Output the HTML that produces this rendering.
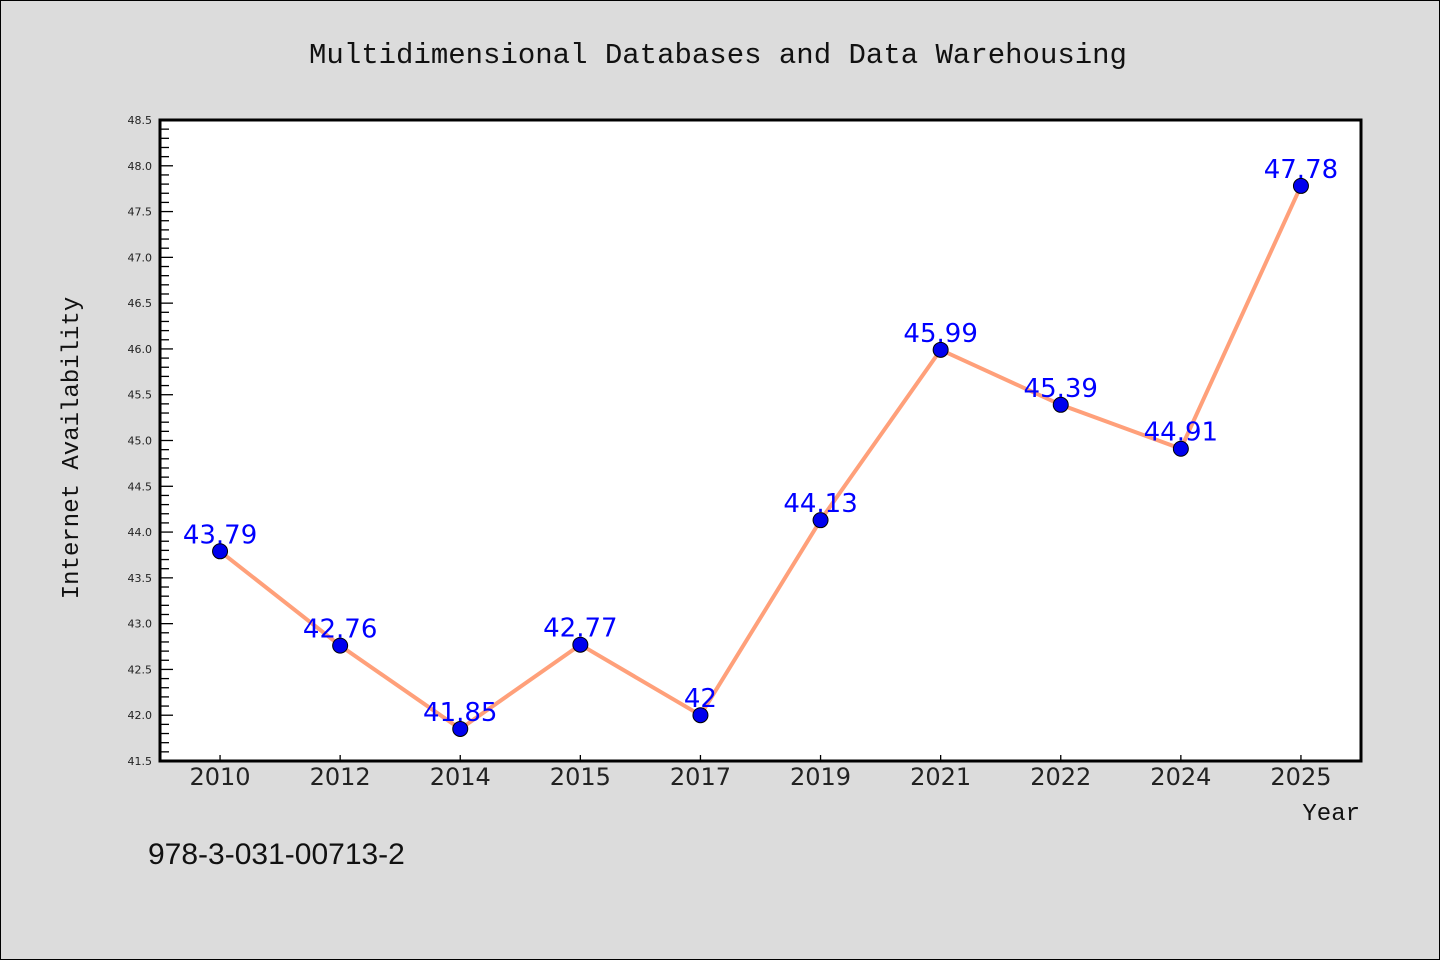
<!DOCTYPE html>
<html><head><meta charset="utf-8"><style>
body{margin:0;background:#dcdcdc;}
svg{display:block;font-family:"Liberation Mono","DejaVu Sans Mono",monospace;}
</style></head><body>
<svg id="chart" width="1440" height="960">
<rect x="0.5" y="0.5" width="1439" height="959" fill="#dcdcdc" stroke="#000"/>
<text x="718" y="63" text-anchor="middle" font-size="29" fill="#111">Multidimensional Databases and Data Warehousing</text>
<rect x="160" y="120" width="1201" height="641" fill="#fff"/>
<g id="yaxis"></g>
<g id="xaxis"></g>
<g id="series"></g>
<rect x="160" y="120" width="1201" height="641" fill="none" stroke="#000" stroke-width="3"/>
<text x="78" y="448" text-anchor="middle" font-size="24" fill="#111" transform="rotate(-90 78 448)">Internet Availability</text>
<text x="1360" y="820" text-anchor="end" font-size="24" fill="#111">Year</text>
<text x="148" y="864" font-size="30" fill="#111" font-family="Liberation Sans, sans-serif">978-3-031-00713-2</text>
</svg>
<script>
const categories=["2010","2012","2014","2015","2017","2019","2021","2022","2024","2025"];
const values=[43.79,42.76,41.85,42.77,42,44.13,45.99,45.39,44.91,47.78];
const valueLabels=["43.79","42.76","41.85","42.77","42","44.13","45.99","45.39","44.91","47.78"];
const yTicks=[41.5,42.0,42.5,43.0,43.5,44.0,44.5,45.0,45.5,46.0,46.5,47.0,47.5,48.0,48.5];
const NS="http://www.w3.org/2000/svg";
const L=160,T=120,W=1201,H=641,yMin=41.5,yMax=48.5;
const y=v=>T+H-(v-yMin)/(yMax-yMin)*H;
const x=i=>L+W/categories.length*(i+0.5);
function mk(tag,attrs,parent){const e=document.createElementNS(NS,tag);for(const k in attrs)e.setAttribute(k,attrs[k]);parent.appendChild(e);return e;}
const ya=document.getElementById('yaxis'),xa=document.getElementById('xaxis'),sg=document.getElementById('series');
for(let k=0;k<=Math.round((yMax-yMin)*10);k++){
  const v=yMin+k/10,yy=y(v);const major=k%5===0;
  const t=mk('line',{x1:L,x2:L+(major?13:9),y1:yy,y2:yy,stroke:'#000','stroke-width':1.3},ya);
  
  
}
yTicks.forEach(v=>{
  const t=mk('text',{x:152,y:y(v)+4,'text-anchor':'end','font-size':11,fill:'#222','font-family':'DejaVu Sans, sans-serif'},ya);
  t.textContent=v.toFixed(1);
  
  
});
categories.forEach((c,i)=>{
  const l=mk('line',{x1:x(i),x2:x(i),y1:T+H,y2:T+H-6,stroke:'#000','stroke-width':1.3},xa);
  
  
  const t=mk('text',{x:x(i),y:785,'text-anchor':'middle','font-size':24,fill:'#222','font-family':'DejaVu Sans, sans-serif'},xa);
  t.textContent=c;
  
  
});
const line=mk('polyline',{points:values.map((v,i)=>x(i)+','+y(v)).join(' '),fill:'none',stroke:'#ffa07a','stroke-width':4},sg);


values.forEach((v,i)=>{
  const c=mk('circle',{cx:x(i),cy:y(v),r:7.5,fill:'#0000ee',stroke:'#000','stroke-width':1},sg);
  
  
  const t=mk('text',{x:x(i),y:y(v)-8,'text-anchor':'middle','font-size':26,fill:'#0000ff','font-family':'DejaVu Sans, sans-serif'},sg);
  t.textContent=valueLabels[i];
  
  
});
</script>
</body></html>
